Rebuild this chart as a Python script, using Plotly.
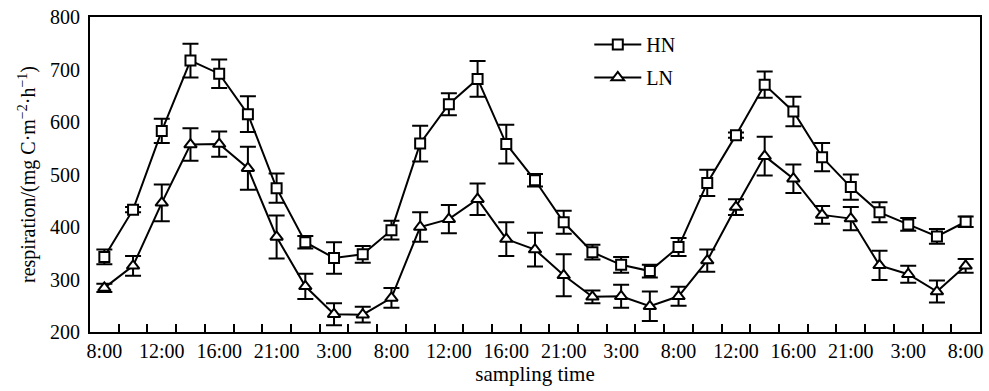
import plotly.graph_objects as go

tick_labels = ["8:00", "12:00", "16:00", "21:00", "3:00", "8:00", "12:00", "16:00",
               "21:00", "3:00", "8:00", "12:00", "16:00", "21:00", "3:00", "8:00"]
sample_idx = list(range(31))
label_idx = list(range(0, 31, 2))

hn_values = [343, 433, 583, 717, 692, 615, 474, 371, 341, 348, 394, 559, 634, 682, 558, 489,
             409, 352, 328, 316, 362, 484, 575, 671, 620, 533, 476, 428, 405, 382, 410]
hn_err = [14, 5, 23, 32, 27, 34, 28, 12, 30, 16, 18, 34, 21, 34, 37, 12,
          22, 14, 15, 12, 17, 25, 5, 25, 28, 27, 24, 19, 12, 14, 10]
ln_values = [284, 326, 446, 557, 558, 512, 381, 287, 234, 233, 265, 400, 415, 453, 377, 357,
             308, 267, 268, 249, 268, 336, 438, 535, 492, 423, 416, 327, 310, 277, 326]
ln_err = [8, 19, 35, 31, 24, 41, 41, 24, 21, 15, 19, 28, 27, 30, 32, 32,
          40, 12, 22, 28, 18, 21, 15, 37, 27, 17, 22, 28, 16, 21, 13]

FONT = "Liberation Serif, Times New Roman, serif"

fig = go.Figure()
fig.add_trace(go.Scatter(
    x=sample_idx, y=hn_values, name="HN", mode="lines+markers", legendgroup="hn",
    line=dict(color="black", width=2),
    marker=dict(symbol="square", size=10, color="white", line=dict(color="black", width=2)),
    error_y=dict(type="data", array=hn_err, visible=True, color="black", thickness=2, width=8),
))
fig.add_trace(go.Scatter(
    x=sample_idx, y=ln_values, name="LN", mode="lines+markers", legendgroup="ln",
    line=dict(color="black", width=2),
    marker=dict(symbol="triangle-up", size=11, color="white", line=dict(color="black", width=2)),
    error_y=dict(type="data", array=ln_err, visible=True, color="black", thickness=2, width=8),
))

fig.update_layout(
    width=989, height=391,
    margin=dict(l=90, r=6, t=14, b=59),
    paper_bgcolor="white", plot_bgcolor="white",
    font=dict(family=FONT, size=20, color="black"),
    showlegend=True,
    legend=dict(x=0.561, y=0.975, xanchor="left", yanchor="top",
                bgcolor="rgba(0,0,0,0)", font=dict(size=20, family=FONT),
                traceorder="grouped", tracegroupgap=4, itemwidth=47),
    xaxis=dict(
        range=[-0.5, 30.5], showgrid=False, zeroline=False,
        showline=True, linecolor="black", linewidth=2, mirror=True,
        tickmode="array", tickvals=label_idx, ticktext=tick_labels,
        ticks="", ticklabelstandoff=0,
        minor=dict(tickmode="array", tickvals=[i + 0.5 for i in range(30)],
                   ticks="inside", ticklen=8, tickwidth=2, tickcolor="black", showgrid=False),
        title=dict(text="sampling time", font=dict(size=21, family=FONT), standoff=4),
    ),
    yaxis=dict(
        range=[200, 800], showgrid=False, zeroline=False,
        showline=True, linecolor="black", linewidth=2, mirror=True,
        tickmode="array", tickvals=[200, 300, 400, 500, 600, 700, 800],
        ticks="", ticklabelstandoff=4,
        title=dict(text="respiration/(mg C·m<sup>−2</sup>·h<sup>−1</sup>)",
                   font=dict(size=20, family=FONT), standoff=9),
    ),
)

fig.write_html("out.html", config={"displayModeBar": False},
               post_script="document.body.style.margin='0';")
